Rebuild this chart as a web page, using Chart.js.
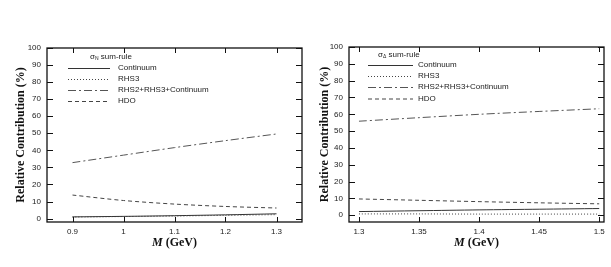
<!DOCTYPE html>
<html>
<head>
<meta charset="utf-8">
<script src="https://cdn.jsdelivr.net/npm/chart.js@4.4.0/dist/chart.umd.min.js"></script>
<style>
  body { margin: 0; background: #fff; }
  .panel { position: absolute; top: 0; }
</style>
</head>
<body>
<div class="panel" style="left:0px"><canvas id="left" width="305" height="267"></canvas></div>
<div class="panel" style="left:305px"><canvas id="right" width="306" height="267"></canvas></div>
<script>
// ---- data ----
var leftM = [0.9, 1.0, 1.1, 1.2, 1.3]
var leftContinuum = [1.0, 1.3, 1.7, 2.2, 2.8]
var leftRhs3 = [0.9, 1.2, 1.5, 1.9, 2.3]
var leftSum = [32.8, 37.2, 41.6, 45.7, 49.6]
var leftHdo = [13.8, 10.6, 8.5, 7.1, 6.2]

var rightM = [1.3, 1.35, 1.4, 1.45, 1.5]
var rightContinuum = [2.2, 2.7, 3.2, 3.6, 4.0]
var rightRhs3 = [0.8, 0.8, 0.7, 0.7, 0.7]
var rightSum = [55.9, 58.0, 60.0, 61.7, 63.3]
var rightHdo = [9.7, 8.9, 8.1, 7.4, 6.8]

var leftXTicks = [0.9, 1, 1.1, 1.2, 1.3]
var rightXTicks = [1.3, 1.35, 1.4, 1.45, 1.5]
var yTicks = [0, 10, 20, 30, 40, 50, 60, 70, 80, 90, 100]

var seriesNames = ['Continuum', 'RHS3', 'RHS2+RHS3+Continuum', 'HDO']
var seriesDash = [[], [1, 2], [8, 3, 2, 3], [4, 3]]
var seriesColor = ['#333', '#444', '#555', '#444']

function points(xs, ys) {
    return xs.map(function (x, i) { return { x: x, y: ys[i] } })
}

// frame, inward ticks, legend and axis titles
var decorPlugin = {
    id: 'decor',
    afterDraw: function (chart) {
        var c = chart.ctx
        var a = chart.chartArea
        var o = chart.options.plugins.decor
        var xs = chart.scales.x, ys = chart.scales.y
        c.save()
        c.strokeStyle = '#111'
        c.lineWidth = 1.3
        c.setLineDash([])
        c.strokeRect(a.left, a.top, a.right - a.left, a.bottom - a.top)
        c.lineWidth = 1
        c.beginPath()
        o.xTicks.forEach(function (v) {
            var px = Math.round(xs.getPixelForValue(v)) + 0.5
            c.moveTo(px, a.bottom); c.lineTo(px, a.bottom - 5)
            c.moveTo(px, a.top); c.lineTo(px, a.top + 5)
        })
        yTicks.forEach(function (v) {
            var py = Math.round(ys.getPixelForValue(v)) + 0.5
            c.moveTo(a.left, py); c.lineTo(a.left + 6, py)
            c.moveTo(a.right, py); c.lineTo(a.right - 6, py)
        })
        c.stroke()

        // legend
        var lg = o.legend
        c.fillStyle = '#222'
        c.textBaseline = 'middle'
        c.textAlign = 'left'
        c.font = '8px "Liberation Sans", Arial, sans-serif'
        var tx = lg.titleX
        c.fillText('σ', tx, lg.titleY)
        tx += c.measureText('σ').width
        c.font = '5px "Liberation Sans", Arial, sans-serif'
        c.fillText(lg.sub, tx, lg.titleY + 1.5)
        tx += c.measureText(lg.sub).width
        c.font = '8px "Liberation Sans", Arial, sans-serif'
        c.fillText(' sum-rule', tx, lg.titleY)
        seriesNames.forEach(function (name, i) {
            var y = lg.rowY[i]
            c.strokeStyle = seriesColor[i]
            c.lineWidth = 1
            c.setLineDash(seriesDash[i])
            c.beginPath()
            c.moveTo(lg.x0, y + 0.5); c.lineTo(lg.x1, y + 0.5)
            c.stroke()
            c.fillText(name, lg.textX, y)
        })
        c.setLineDash([])

        // axis titles
        c.fillStyle = '#111'
        c.save()
        c.translate(o.yTitleX, (a.top + a.bottom) / 2)
        c.rotate(-Math.PI / 2)
        c.textAlign = 'center'
        c.font = 'bold 12px "Liberation Serif", "Times New Roman", serif'
        c.fillText('Relative Contribution (%)', 0, 0)
        c.restore()
        c.font = 'bold italic 12px "Liberation Serif", "Times New Roman", serif'
        var w1 = c.measureText('M').width
        c.font = 'bold 12px "Liberation Serif", "Times New Roman", serif'
        var w2 = c.measureText(' (GeV)').width
        var sx = (a.left + a.right) / 2 - (w1 + w2) / 2
        c.textAlign = 'left'
        c.font = 'bold italic 12px "Liberation Serif", "Times New Roman", serif'
        c.fillText('M', sx, o.xTitleY)
        c.font = 'bold 12px "Liberation Serif", "Times New Roman", serif'
        c.fillText(' (GeV)', sx + w1, o.xTitleY)
        c.restore()
    }
}

function makePanel(id, m, cont, rhs3, sum, hdo, cfg) {
    var all = [cont, rhs3, sum, hdo]
    var datasets = all.map(function (ys, i) {
        return {
            label: seriesNames[i],
            data: points(m, ys),
            borderColor: seriesColor[i],
            borderWidth: 1,
            borderDash: seriesDash[i],
            pointRadius: 0,
            fill: false,
            tension: 0.3
        }
    })
    var tickFont = { family: '"Liberation Sans", Arial, sans-serif', size: 8 }
    return new Chart(document.getElementById(id).getContext('2d'), {
        type: 'line',
        data: { datasets: datasets },
        plugins: [decorPlugin],
        options: {
            responsive: false,
            animation: false,
            devicePixelRatio: 1,
            layout: { padding: { left: 0, right: cfg.padRight, top: cfg.top, bottom: 0 } },
            plugins: {
                legend: { display: false },
                tooltip: { enabled: false },
                decor: cfg.decor
            },
            scales: {
                x: {
                    type: 'linear',
                    min: cfg.xMin, max: cfg.xMax,
                    grid: { display: false, drawTicks: false },
                    border: { display: false },
                    afterBuildTicks: function (s) { s.ticks = cfg.xTicks.map(function (v) { return { value: v } }) },
                    afterFit: function (s) { s.height = 267 - 222 },
                    ticks: { font: tickFont, color: '#222', padding: 5, maxRotation: 0, autoSkip: false,
                        callback: function (v) { return String(v) } }
                },
                y: {
                    type: 'linear',
                    min: cfg.yMin, max: 100,
                    grid: { display: false, drawTicks: false },
                    border: { display: false },
                    afterBuildTicks: function (s) { s.ticks = yTicks.map(function (v) { return { value: v } }) },
                    afterFit: function (s) { s.width = cfg.yWidth },
                    ticks: { font: tickFont, color: '#222', padding: 6, autoSkip: false,
                        callback: function (v) { return String(v) } }
                }
            }
        }
    })
}

makePanel('left', leftM, leftContinuum, leftRhs3, leftSum, leftHdo, {
    xMin: 0.85, xMax: 1.35, yMin: -2, top: 48, padRight: 3, yWidth: 47,
    xTicks: leftXTicks,
    decor: {
        xTicks: leftXTicks, yTitleX: 21, xTitleY: 243,
        legend: { sub: 'N', titleX: 90, titleY: 57, rowY: [68, 79, 90, 101], x0: 68, x1: 110, textX: 118 }
    }
})

makePanel('right', rightM, rightContinuum, rightRhs3, rightSum, rightHdo, {
    xMin: 1.2917, xMax: 1.504, yMin: -4, top: 47, padRight: 7, yWidth: 44,
    xTicks: rightXTicks,
    decor: {
        xTicks: rightXTicks, yTitleX: 20, xTitleY: 243,
        legend: { sub: 'Δ', titleX: 73, titleY: 55, rowY: [65, 76, 87, 98.5], x0: 63, x1: 108, textX: 113 }
    }
})
</script>
</body>
</html>
